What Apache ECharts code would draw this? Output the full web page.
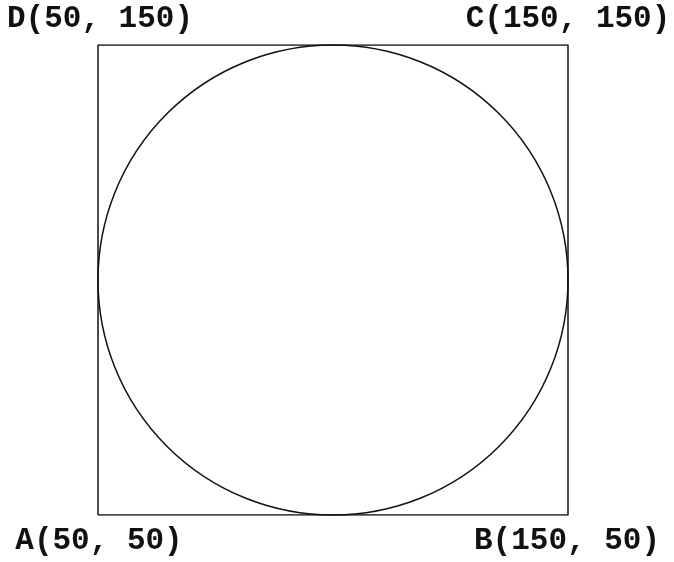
<!DOCTYPE html>
<html>
<head>
<meta charset="utf-8">
<script src="https://cdn.jsdelivr.net/npm/echarts@6/dist/echarts.min.js"></script>
<style>
  html, body { margin: 0; padding: 0; background: #fff; }
  #chart { width: 674px; height: 562px; }
</style>
</head>
<body>
<div id="chart"></div>
<script>
// corner points of the square, going round A -> B -> C -> D
const pointNames = ['A', 'B', 'C', 'D'];
const pointX = [50, 150, 150, 50];
const pointY = [50, 50, 150, 150];
// inscribed circle: centre and radius
const circleCenter = [100, 100];
const circleRadius = 50;

// label offsets from each corner (px)
const labelOffsets = [[1, 26], [-1, 26], [0, -26], [2, -26]];

const squareData = pointNames.map((n, i) => ({
  name: n,
  value: [pointX[i], pointY[i]],
  label: { offset: labelOffsets[i] }
}));
// close the square
squareData.push({ value: [pointX[0], pointY[0]], label: { show: false } });

const chart = echarts.init(document.getElementById('chart'));
chart.setOption({
  backgroundColor: '#fff',
  animation: false,
  grid: { left: 98, top: 45, width: 470, height: 470 },
  xAxis: { type: 'value', min: 50, max: 150, show: false },
  yAxis: { type: 'value', min: 50, max: 150, show: false },
  series: [
    {
      type: 'line',
      data: squareData,
      symbol: 'circle',
      symbolSize: 0,
      lineStyle: { color: '#111', width: 1.5 },
      label: {
        show: true,
        position: 'inside',
        fontFamily: 'Liberation Mono',
        fontWeight: 'bold',
        fontSize: 31,
        color: '#111',
        formatter: p => p.name + '(' + p.value[0] + ', ' + p.value[1] + ')'
      }
    },
    {
      type: 'custom',
      coordinateSystem: 'cartesian2d',
      data: [[circleCenter[0], circleCenter[1], circleRadius]],
      renderItem: (params, api) => {
        const c = api.coord([api.value(0), api.value(1)]);
        const r = api.size([api.value(2), 0])[0];
        return {
          type: 'circle',
          shape: { cx: c[0], cy: c[1], r: r },
          style: { fill: 'none', stroke: '#111', lineWidth: 1.5 }
        };
      }
    }
  ]
});
</script>
</body>
</html>
